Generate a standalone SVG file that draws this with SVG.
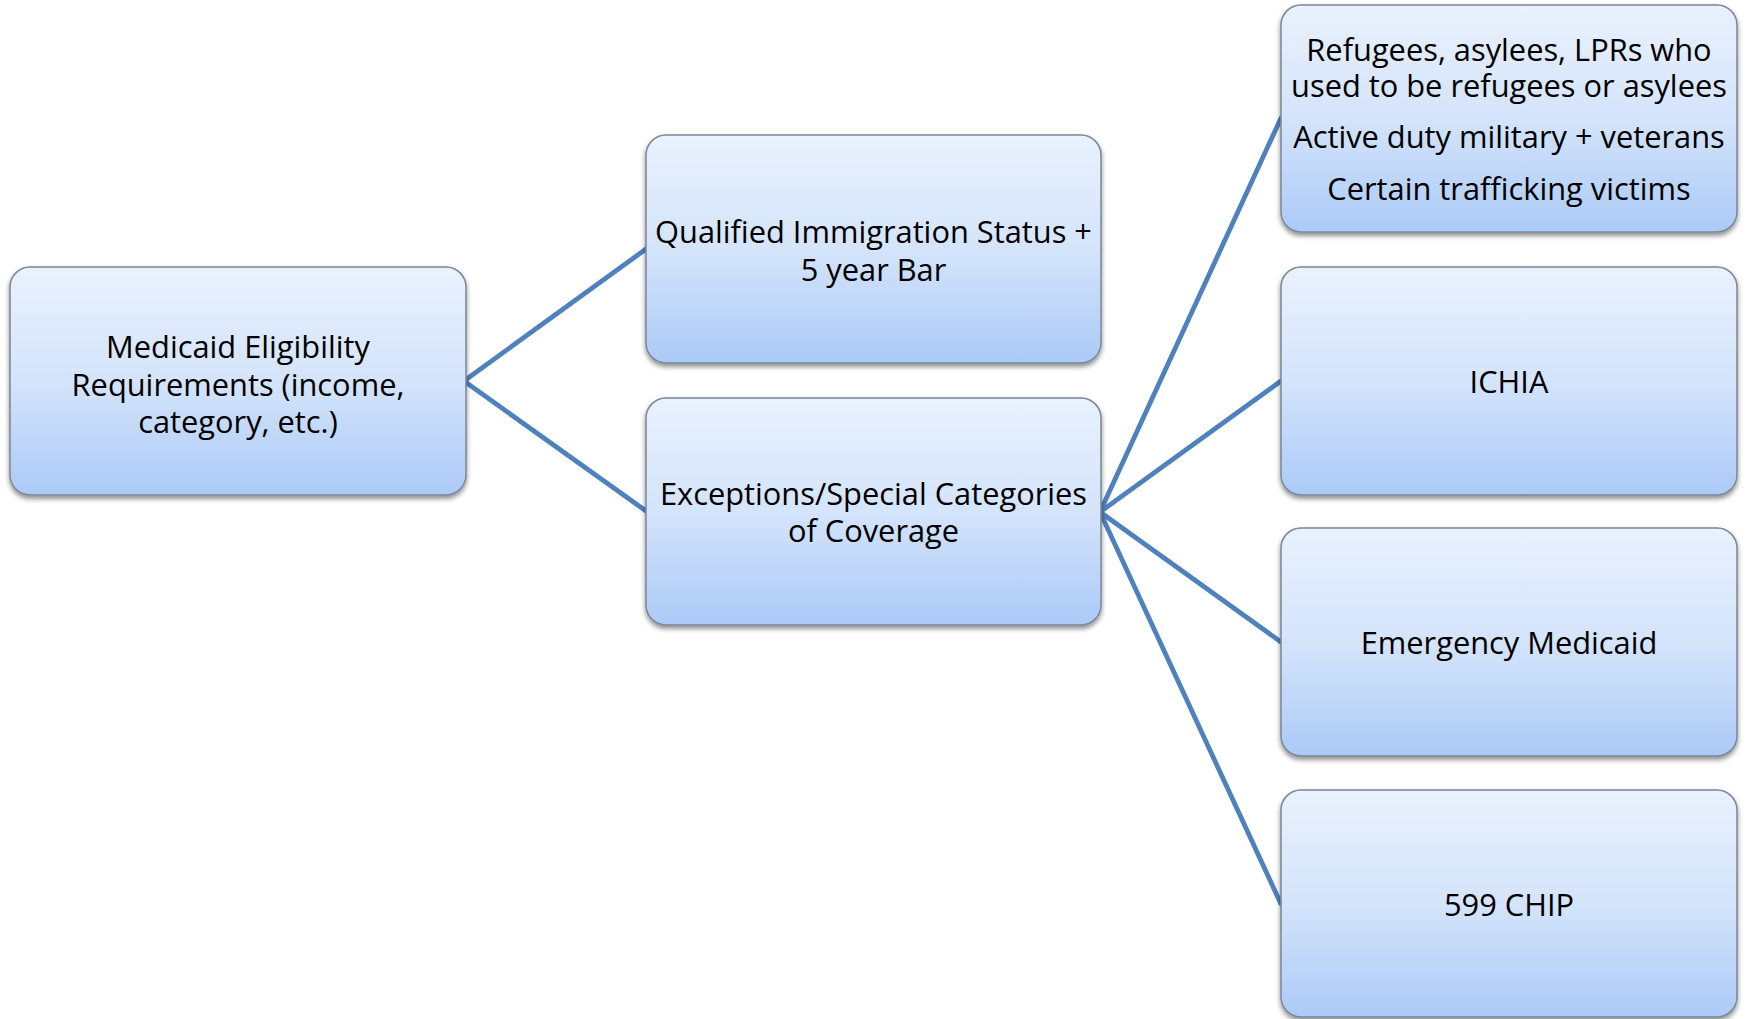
<svg xmlns="http://www.w3.org/2000/svg" width="1747" height="1019" viewBox="0 0 1747 1019">
<defs>
<linearGradient id="g" x1="0" y1="0" x2="0" y2="1">
<stop offset="0" stop-color="#e9f1fd"/>
<stop offset="0.5" stop-color="#d4e4fb"/>
<stop offset="1" stop-color="#abcaf7"/>
</linearGradient>
<filter id="sh" x="-5%" y="-5%" width="110%" height="115%">
<feDropShadow dx="0" dy="3" stdDeviation="2.5" flood-color="#000" flood-opacity="0.45"/>
</filter>
</defs>
<style>
.box{fill:url(#g);stroke:#7b8696;stroke-width:1.5;filter:url(#sh)}
.t{font-family:"Open Sans","Liberation Sans",sans-serif;font-size:30.8px;fill:#000;text-anchor:middle}
.c{stroke:#4f81bd;stroke-width:4.8;fill:none;stroke-linecap:round}
</style>
<rect width="1747" height="1019" fill="#fff"/>
<g id="connectors">
<line class="c" x1="464" y1="381" x2="646" y2="249"/>
<line class="c" x1="464" y1="381" x2="646" y2="511"/>
<line class="c" x1="1100" y1="512" x2="1281" y2="118"/>
<line class="c" x1="1100" y1="512" x2="1281" y2="381"/>
<line class="c" x1="1100" y1="512" x2="1281" y2="642"/>
<line class="c" x1="1100" y1="512" x2="1281" y2="904"/>
</g>
<g id="n-medicaid">
<rect class="box" x="10" y="267" width="456" height="228" rx="20"/>
<text class="t" x="238" y="358">Medicaid Eligibility</text>
<text class="t" x="238" y="396">Requirements (income,</text>
<text class="t" x="238" y="433">category, etc.)</text>
</g>
<g id="n-qualified">
<rect class="box" x="646" y="135" width="455" height="228" rx="20"/>
<text class="t" x="873.5" y="243">Qualified Immigration Status +</text>
<text class="t" x="873.5" y="281">5 year Bar</text>
</g>
<g id="n-exceptions">
<rect class="box" x="646" y="398" width="455" height="227" rx="20"/>
<text class="t" x="873.5" y="505">Exceptions/Special Categories</text>
<text class="t" x="873.5" y="542">of Coverage</text>
</g>
<g id="n-refugees">
<rect class="box" x="1281" y="5" width="456" height="227" rx="20"/>
<text class="t" x="1509" y="61">Refugees, asylees, LPRs who</text>
<text class="t" x="1509" y="97">used to be refugees or asylees</text>
<text class="t" x="1509" y="148">Active duty military + veterans</text>
<text class="t" x="1509" y="200">Certain trafficking victims</text>
</g>
<g id="n-ichia">
<rect class="box" x="1281" y="267" width="456" height="228" rx="20"/>
<text class="t" x="1509" y="393">ICHIA</text>
</g>
<g id="n-emergency">
<rect class="box" x="1281" y="528" width="456" height="228" rx="20"/>
<text class="t" x="1509" y="654">Emergency Medicaid</text>
</g>
<g id="n-chip">
<rect class="box" x="1281" y="790" width="456" height="227" rx="20"/>
<text class="t" x="1509" y="916">599 CHIP</text>
</g>
</svg>
